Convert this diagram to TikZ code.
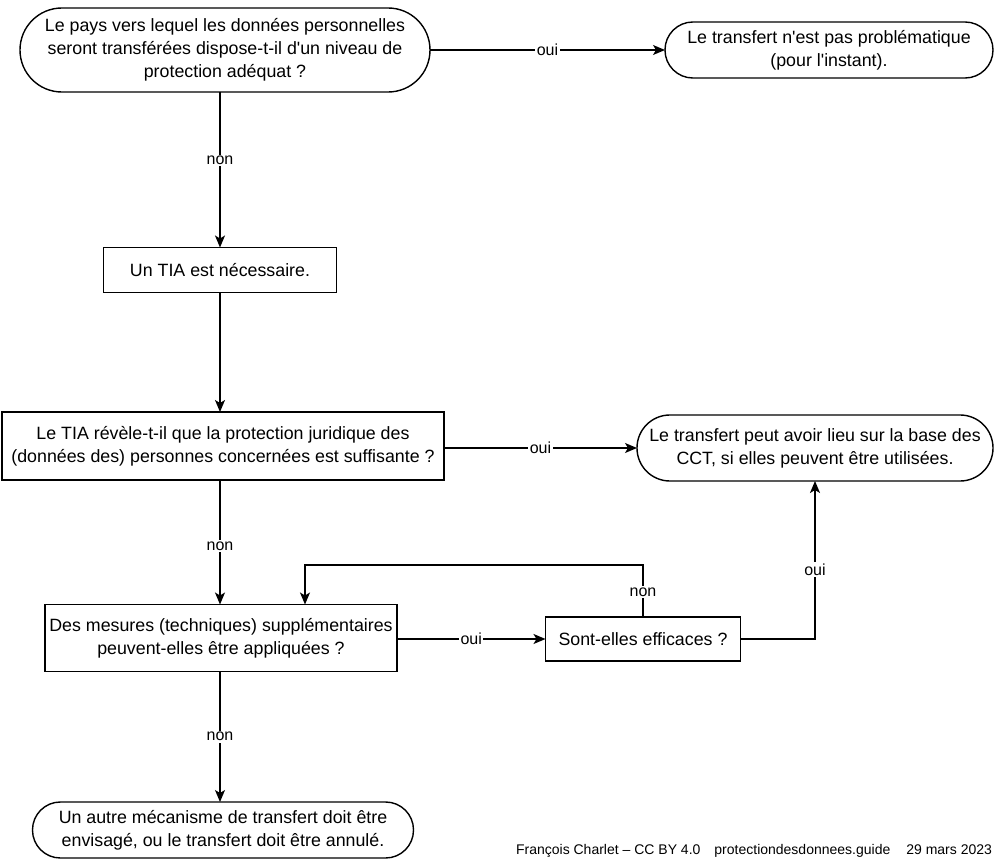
\documentclass[tikz,border=0pt]{standalone}
\usepackage{fontspec}
\setmainfont{Liberation Sans}[Ligatures=TeXOff]
\usetikzlibrary{arrows.meta,calc}
\begin{document}
\begin{tikzpicture}[x=1pt,y=-1pt,
  every node/.style={inner sep=0pt, outer sep=0pt},
  base/.style={draw=black, line width=1.4pt, fill=white, align=center,
    font=\fontsize{17.8}{23}\selectfont},
  boxnode/.style={base, rectangle},
  stadium/.style={base, rectangle, rounded corners=#1},
  arr/.style={line width=1.4pt, -{Stealth[length=12pt,width=10pt,inset=3pt]}},
  lbl/.style={fill=white, inner sep=1.5pt, font=\fontsize{16}{18}\selectfont},
  foot/.style={font=\fontsize{14}{16}\selectfont, anchor=east}
]
\useasboundingbox[fill=white] (0,0) rectangle (996,864);

\node[stadium=41.9pt, minimum width=410pt, minimum height=84pt] (n1) at (225,50)
  {Le pays vers lequel les données personnelles\\seront transférées dispose-t-il d'un niveau de\\protection adéquat ?};
\node[stadium=27.9pt, minimum width=328pt, minimum height=56pt] (n2) at (829,50)
  {Le transfert n'est pas problématique\\(pour l'instant).};
\node[boxnode, minimum width=233pt, minimum height=45pt] (n3) at (220,270)
  {Un TIA est nécessaire.};
\node[boxnode, minimum width=442pt, minimum height=68pt] (n4) at (223,446)
  {Le TIA révèle-t-il que la protection juridique des\\(données des) personnes concernées est suffisante ?};
\node[stadium=32.9pt, minimum width=356pt, minimum height=66pt] (n5) at (815,448)
  {Le transfert peut avoir lieu sur la base des\\CCT, si elles peuvent être utilisées.};
\node[boxnode, minimum width=352pt, minimum height=67pt] (n6) at (221,638)
  {Des mesures (techniques) supplémentaires\\peuvent-elles être appliquées ?};
\node[boxnode, minimum width=195pt, minimum height=44pt] (n7) at (643,639)
  {Sont-elles efficaces ?};
\node[stadium=27.9pt, minimum width=381pt, minimum height=56pt] (n8) at (223,830)
  {Un autre mécanisme de transfert doit être\\envisagé, ou le transfert doit être annulé.};

\coordinate (c1) at (643,565);
\coordinate (c2) at (305,565);

\draw[arr] (n1.east) -- node[lbl] {oui} (n2.west);
\draw[arr] (n1.south -| n3.north) -- node[lbl, pos=0.44] {non} (n3.north);
\draw[arr] (n3.south) -- (n3.south |- n4.north);
\draw[arr] (n4.east |- n5.west) -- node[lbl] {oui} (n5.west);
\draw[arr] (n4.south -| n3.south) -- node[lbl, pos=0.53] {non} (n6.north -| n3.south);
\draw[arr] (n6.east |- n7.west) -- node[lbl] {oui} (n7.west);
\draw[arr] (n7.north) -- node[lbl, pos=0.48] {non} (c1) -- (c2) -- (n6.north -| c2);
\draw[arr] (n7.east) -| node[lbl, pos=0.72] {oui} (n5.south);
\draw[arr] (n6.south -| n3.south) -- node[lbl] {non} (n8.north -| n3.south);

\node[foot] (ft) at (992,851)
  {François Charlet – CC BY 4.0\hspace{14pt}protectiondesdonnees.guide\hspace{16pt}29 mars 2023};
\end{tikzpicture}
\end{document}
